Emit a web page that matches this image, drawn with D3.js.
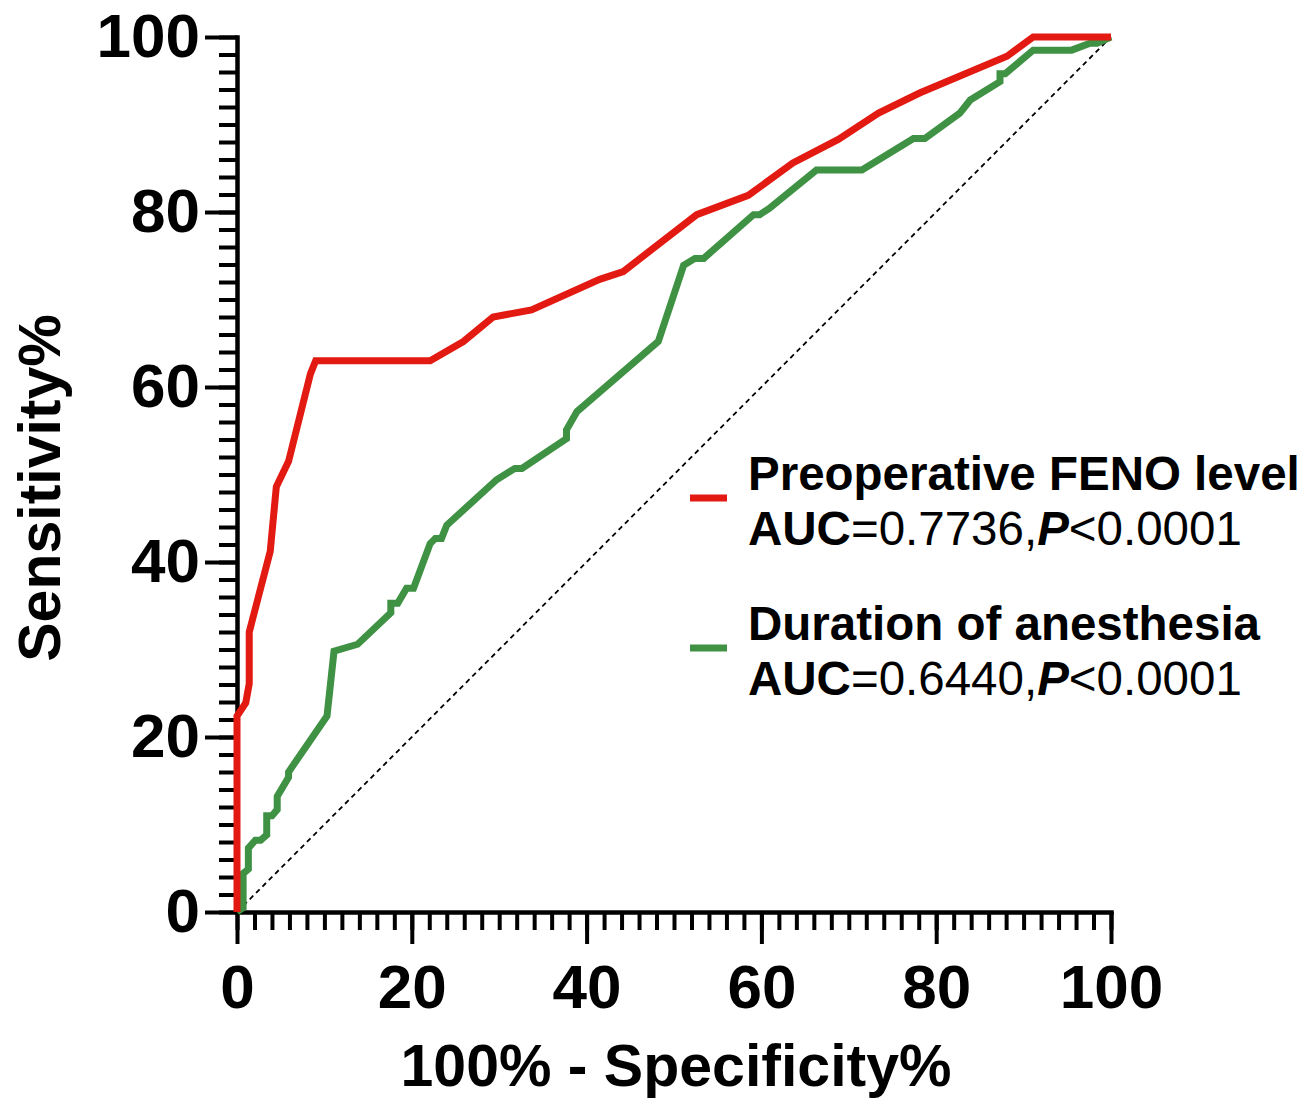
<!DOCTYPE html>
<html>
<head>
<meta charset="utf-8">
<script src="https://cdn.jsdelivr.net/npm/d3@7"></script>
<style>
  body { margin: 0; background: #fff; }
  svg { display: block; font-family: "Liberation Sans", Arial, sans-serif; }
</style>
</head>
<body>
<svg id="chart" width="1313" height="1101"></svg>
<script>
// ROC curve points: x = 100% - Specificity%, y = Sensitivity%
const fenoX = [0, 0, 1.0, 1.4, 1.4, 3.8, 4.5, 5.9, 8.4, 9.0, 22.1, 25.9, 29.3, 33.7, 41.5, 44.2, 52.6, 58.5, 63.6, 68.8, 73.4, 78.1, 88.1, 91.1, 100];
const fenoY = [0, 22.4, 23.9, 26.1, 32.0, 41.2, 48.6, 51.5, 61.5, 63.0, 63.0, 65.2, 68.0, 68.8, 72.3, 73.2, 79.7, 81.9, 85.6, 88.3, 91.3, 93.6, 97.8, 100, 100];

const durX = [0, 0.7, 0.7, 1.3, 1.3, 2.1, 2.7, 3.4, 3.4, 4.0, 4.6, 4.6, 5.9, 5.9, 10.3, 11.1, 13.8, 17.6, 17.6, 18.4, 19.4, 20.2, 22.1, 22.7, 23.4, 24.0, 29.7, 31.8, 32.6, 37.7, 37.7, 38.9, 48.2, 51.1, 52.4, 53.4, 59.1, 59.8, 60.9, 66.3, 71.5, 77.4, 78.7, 82.7, 83.9, 87.3, 87.3, 87.9, 91.1, 95.5, 97.6, 98.4, 100];
const durY = [0, 0.5, 4.4, 4.9, 7.3, 8.2, 8.2, 8.8, 11.0, 11.0, 11.7, 13.2, 15.4, 16.0, 22.4, 29.8, 30.6, 34.2, 35.3, 35.3, 37.0, 37.0, 42.1, 42.7, 42.7, 44.2, 49.4, 50.7, 50.7, 54.1, 55.1, 57.2, 65.2, 73.9, 74.7, 74.7, 79.7, 79.7, 80.4, 84.8, 84.8, 88.4, 88.4, 91.3, 92.8, 94.9, 95.8, 95.8, 98.5, 98.5, 99.3, 99.3, 100];

const seriesNames = ["Preoperative FENO level", "Duration of anesthesia"];
const aucValues = ["0.7736", "0.6440"];
const pValues = ["<0.0001", "<0.0001"];
const seriesColors = ["#e31a12", "#3f9243"];

const majorTicks = [0, 20, 40, 60, 80, 100];
const minorTicks = d3.range(0, 101, 2);

const svg = d3.select("#chart");

const x = d3.scaleLinear().domain([0, 100]).range([237, 1111]);
const y = d3.scaleLinear().domain([0, 100]).range([912, 37]);

// minor ticks first, then major axis with labels on top
svg.append("g")
  .attr("transform", "translate(0,912)")
  .call(d3.axisBottom(x).tickValues(minorTicks).tickSize(18).tickFormat("").tickSizeOuter(0))
  .call(g => g.select(".domain").remove())
  .call(g => g.selectAll("line").attr("stroke-width", 4));

svg.append("g")
  .attr("transform", "translate(237,0)")
  .call(d3.axisLeft(y).tickValues(minorTicks).tickSize(18).tickFormat("").tickSizeOuter(0))
  .call(g => g.select(".domain").remove())
  .call(g => g.selectAll("line").attr("stroke-width", 4));

const xAxis = svg.append("g")
  .attr("transform", "translate(0,912)")
  .call(d3.axisBottom(x).tickValues(majorTicks).tickSize(32).tickSizeOuter(0).tickPadding(20));

const yAxis = svg.append("g")
  .attr("transform", "translate(237,0)")
  .call(d3.axisLeft(y).tickValues(majorTicks).tickSize(32).tickSizeOuter(0).tickPadding(5));

[xAxis, yAxis].forEach(g => {
  g.select(".domain").attr("stroke-width", 4.5).attr("stroke-linecap", "square");
  g.selectAll(".tick line").attr("stroke-width", 4);
  g.selectAll(".tick text")
    .attr("font-family", "'Liberation Sans', Arial, sans-serif")
    .attr("font-size", 62)
    .attr("font-weight", "bold")
    .attr("fill", "#000");
});

// reference diagonal
svg.append("line")
  .attr("x1", x(0)).attr("y1", y(0))
  .attr("x2", x(100)).attr("y2", y(100))
  .attr("stroke", "#000")
  .attr("stroke-width", 1.8)
  .attr("stroke-dasharray", "5,4");

const line = d3.line().x(d => x(d[0])).y(d => y(d[1]));

const curves = [d3.zip(fenoX, fenoY), d3.zip(durX, durY)];

// draw green first so red sits on top where they meet
[1, 0].forEach(i => {
  svg.append("path")
    .datum(curves[i])
    .attr("d", line)
    .attr("fill", "none")
    .attr("stroke", seriesColors[i])
    .attr("stroke-width", 7)
    .attr("stroke-linejoin", "miter");
});

// axis titles
svg.append("text")
  .attr("x", 676)
  .attr("y", 1086)
  .attr("text-anchor", "middle")
  .attr("font-size", 59)
  .attr("font-weight", "bold")
  .text("100% - Specificity%");

svg.append("text")
  .attr("transform", "translate(60,488) rotate(-90)")
  .attr("text-anchor", "middle")
  .attr("font-size", 59)
  .attr("font-weight", "bold")
  .text("Sensitivity%");

// legend
const legendTop = [490, 640];
seriesNames.forEach((name, i) => {
  const g = svg.append("g");
  g.append("line")
    .attr("x1", 690).attr("x2", 727)
    .attr("y1", legendTop[i] + 8).attr("y2", legendTop[i] + 8)
    .attr("stroke", seriesColors[i])
    .attr("stroke-width", 7);
  g.append("text")
    .attr("x", 748).attr("y", legendTop[i])
    .attr("font-size", 47.5)
    .attr("font-weight", "bold")
    .text(name);
  const t = g.append("text")
    .attr("x", 748).attr("y", legendTop[i] + 55)
    .attr("font-size", 47.5);
  t.append("tspan").attr("font-weight", "bold").text("AUC");
  t.append("tspan").text("=" + aucValues[i] + ",");
  t.append("tspan").attr("font-weight", "bold").attr("font-style", "italic").text("P");
  t.append("tspan").text(pValues[i]);
});
</script>
</body>
</html>
